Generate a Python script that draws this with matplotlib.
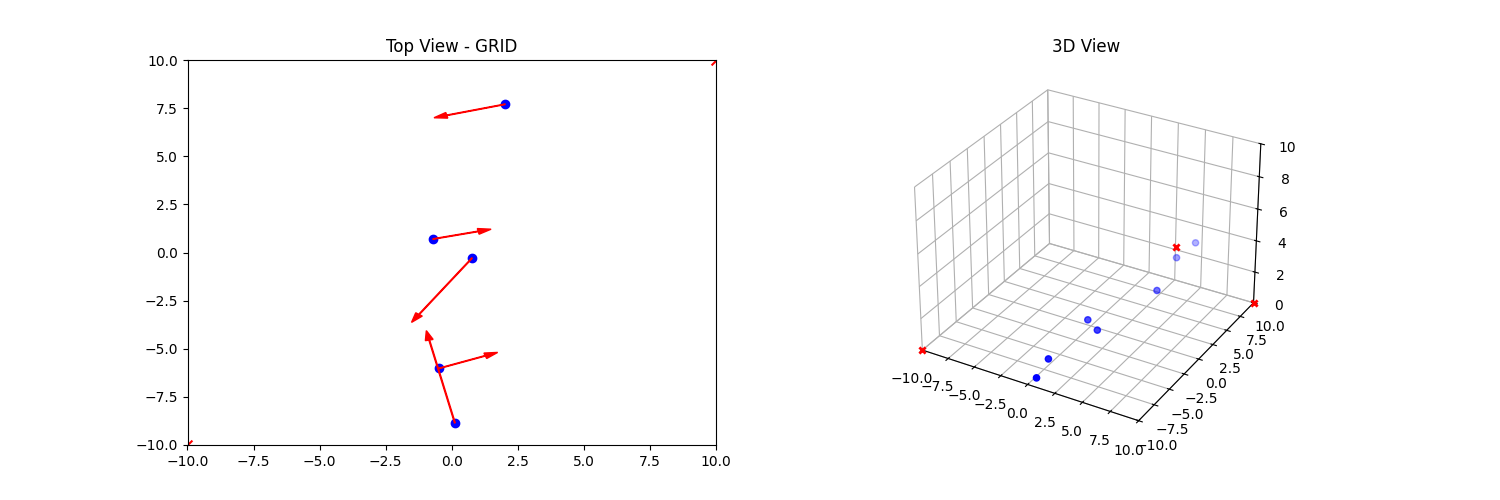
import matplotlib
matplotlib.use("Agg")
import matplotlib.pyplot as plt
import numpy as np

# drone positions, the last two sit outside the top view limits
drone_x = [2.02, -0.71, 0.77, -0.48, 0.12, 1.1, 0.87]
drone_y = [7.7, 0.7, -0.29, -6.02, -8.85, 16.55, 13.41]
drone_z = [0, 0, 0, 0, 0, 0, 0]

# velocity arrows for the drones inside the view
arrow_u = [-2.69, 2.2, -2.29, 2.22, -1.08]
arrow_v = [-0.7, 0.51, -3.34, 0.83, 4.79]

target_x = [-10, 10, 0]
target_y = [-10, 10, 15]
target_z = [0, 0, 0]

fig = plt.figure(figsize=(15, 5))

ax = fig.add_subplot(1, 2, 1)
ax.scatter(drone_x, drone_y, c='blue')
ax.scatter(target_x, target_y, c='red', marker='x', s=50)
for x, y, u, v in zip(drone_x, drone_y, arrow_u, arrow_v):
    ax.arrow(x, y, u, v, color='red', width=0.03, head_width=0.3, head_length=0.5,
             length_includes_head=True, zorder=3)
ax.set_xlim(-10, 10)
ax.set_ylim(-10, 10)
ax.set_title("Top View - GRID")

ax3d = fig.add_subplot(1, 2, 2, projection='3d')
ax3d.scatter(drone_x, drone_y, drone_z, c='blue')
ax3d.scatter(target_x, target_y, target_z, c='red', marker='x', s=20, linewidths=2, depthshade=False)
ax3d.set_xlim(-10, 10)
ax3d.set_ylim(-10, 10)
ax3d.set_zlim(0, 10)
ax3d.set_title("3D View")
for axis in (ax3d.xaxis, ax3d.yaxis, ax3d.zaxis):
    axis.set_pane_color((1, 1, 1, 1))

fig.savefig("out.png", dpi=100)
plt.close(fig)
